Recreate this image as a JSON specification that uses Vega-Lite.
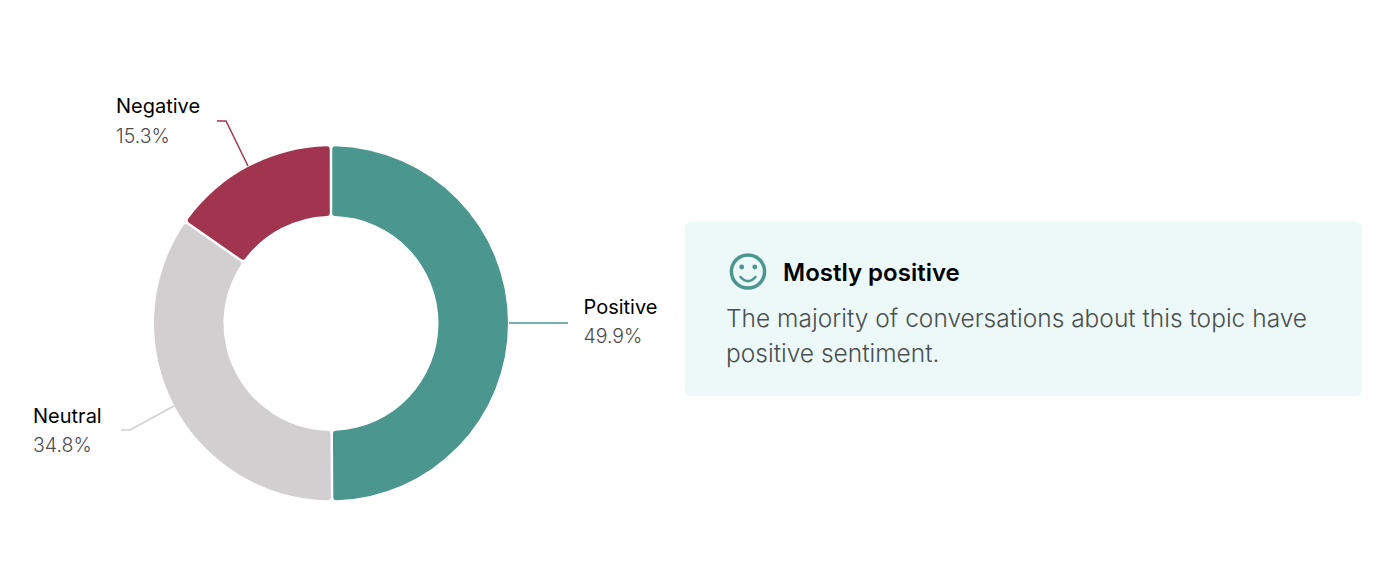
{"$schema":"https://vega.github.io/schema/vega-lite/v6.json","width":1392,"height":566,"padding":0,"autosize":{"type":"none"},"background":"white","config":{"view":{"stroke":null},"text":{"font":"Inter"}},
"datasets":{
"shares":[{"sentiment":"Positive","share":49.9,"rank":1},{"sentiment":"Neutral","share":34.8,"rank":2},{"sentiment":"Negative","share":15.3,"rank":3}],
"leaders":[{"sentiment":"Positive","step":1,"a":509,"b":323},{"sentiment":"Positive","step":2,"a":568,"b":323},{"sentiment":"Neutral","step":1,"a":174,"b":406},{"sentiment":"Neutral","step":2,"a":130,"b":430},{"sentiment":"Neutral","step":3,"a":121,"b":430},{"sentiment":"Negative","step":1,"a":248,"b":166},{"sentiment":"Negative","step":2,"a":226,"b":121},{"sentiment":"Negative","step":3,"a":217,"b":121}],
"labels":[{"name":"Positive","pct":"49.9%","a":583.5,"b":307.5,"b2":336.5},{"name":"Neutral","pct":"34.8%","a":33,"b":416.5,"b2":445.5},{"name":"Negative","pct":"15.3%","a":116,"b":106.5,"b2":136.5}],
"card":[{"a":685,"a2":1362,"b":222,"b2":396}],
"title":[{"text":"Mostly positive","a":783,"b":273.5}],
"body":[{"text":"The majority of conversations about this topic have","a":726,"b":320},{"text":"positive sentiment.","a":726,"b":355}],
"face":[{"a":748,"b":271.5}],
"eyes":[{"a":741.7,"b":267},{"a":754.8,"b":267}],
"smile":[{"a":748,"b":277}]
},
"layer":[
{"data":{"name":"card"},"mark":{"type":"rect","fill":"#edf9f9","cornerRadius":6},"encoding":{"x":{"field":"a","type":"quantitative","scale":{"domain":[0,1392],"nice":false,"zero":false},"axis":null},"x2":{"field":"a2"},"y":{"field":"b","type":"quantitative","scale":{"domain":[566,0],"nice":false,"zero":false},"axis":null},"y2":{"field":"b2"}}},
{"data":{"name":"shares"},"mark":{"type":"arc","radius":177,"radius2":107.5,"cornerRadius":3,"padAngle":0.012},"encoding":{"theta":{"field":"share","type":"quantitative","scale":{"domain":[0,100],"range":[0,6.2832]},"stack":true},"order":{"field":"rank"},"color":{"field":"sentiment","type":"nominal","legend":null,"scale":{"domain":["Positive","Neutral","Negative"],"range":["#4b968f","#d2cfd1","#a1354f"]}},"x":{"datum":331,"type":"quantitative","axis":null},"y":{"datum":323.3,"type":"quantitative","axis":null}}},
{"data":{"name":"leaders"},"mark":{"type":"line","strokeWidth":1.5,"interpolate":"linear"},"encoding":{"x":{"field":"a","type":"quantitative"},"y":{"field":"b","type":"quantitative"},"order":{"field":"step"},"color":{"field":"sentiment","type":"nominal","legend":null}}},
{"data":{"name":"labels"},"mark":{"type":"text","align":"left","baseline":"middle","fontSize":20,"fontWeight":400,"fill":"#000000"},"encoding":{"x":{"field":"a","type":"quantitative"},"y":{"field":"b","type":"quantitative"},"text":{"field":"name"}}},
{"data":{"name":"labels"},"mark":{"type":"text","align":"left","baseline":"middle","fontSize":19.5,"fontWeight":300,"fill":"#4d4d4d"},"encoding":{"x":{"field":"a","type":"quantitative"},"y":{"field":"b2","type":"quantitative"},"text":{"field":"pct"}}},
{"data":{"name":"title"},"mark":{"type":"text","align":"left","baseline":"middle","fontSize":24,"fontWeight":600,"fill":"#000000"},"encoding":{"x":{"field":"a","type":"quantitative"},"y":{"field":"b","type":"quantitative"},"text":{"field":"text"}}},
{"data":{"name":"body"},"mark":{"type":"text","align":"left","baseline":"middle","fontSize":24.5,"fontWeight":300,"fill":"#4a4f50"},"encoding":{"x":{"field":"a","type":"quantitative"},"y":{"field":"b","type":"quantitative"},"text":{"field":"text"}}},
{"data":{"name":"face"},"mark":{"type":"point","shape":"circle","size":1102,"filled":false,"stroke":"#4b968f","strokeWidth":3.5,"opacity":1},"encoding":{"x":{"field":"a","type":"quantitative"},"y":{"field":"b","type":"quantitative"}}},
{"data":{"name":"eyes"},"mark":{"type":"point","shape":"circle","size":24,"filled":true,"fill":"#4b968f","opacity":1},"encoding":{"x":{"field":"a","type":"quantitative"},"y":{"field":"b","type":"quantitative"}}},
{"data":{"name":"smile"},"mark":{"type":"point","shape":"M -1 0 Q 0 1.1 1 0","size":225,"filled":false,"stroke":"#4b968f","strokeWidth":2.6,"opacity":1,"strokeCap":"round"},"encoding":{"x":{"field":"a","type":"quantitative"},"y":{"field":"b","type":"quantitative"}}}
],
"resolve":{"scale":{"x":"shared","y":"shared"}}}
